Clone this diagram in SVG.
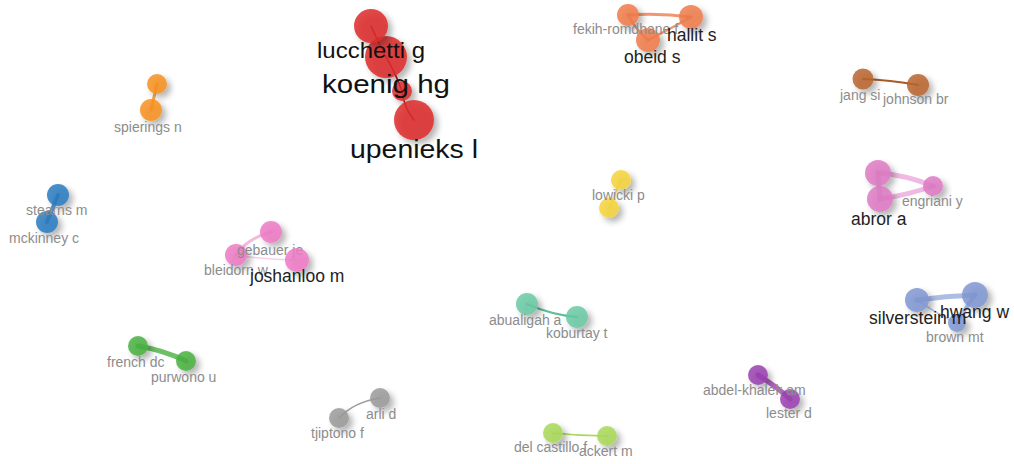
<svg xmlns="http://www.w3.org/2000/svg" width="1014" height="464" viewBox="0 0 1014 464">
<defs>
<filter id="sh" x="-60%" y="-60%" width="240%" height="240%">
<feGaussianBlur in="SourceAlpha" stdDeviation="3"/>
<feOffset dx="4" dy="4" result="b"/>
<feComponentTransfer><feFuncA type="linear" slope="0.35"/></feComponentTransfer>
<feMerge><feMergeNode/><feMergeNode in="SourceGraphic"/></feMerge>
</filter>
</defs>
<style>
text{font-family:"Liberation Sans",Arial,sans-serif}
.n{filter:url(#sh);fill-opacity:0.85}
.g{fill:#8c8c8c;font-size:14px}
.d{fill:#222;font-size:17.5px}
.b{fill:#111}
.e{fill:none;stroke-linecap:round}
</style>
<rect width="1014" height="464" fill="#fff"/>
<g id="connectors" class="e">
<path d="M371,26 Q378,42 386,57" stroke="#b01818" stroke-width="1.5"/>
<path d="M386,57 Q396,74 402,91" stroke="#b01818" stroke-width="1.5"/>
<path d="M402,91 Q404,108 414,120" stroke="#b01818" stroke-width="1.5"/>
<path d="M628,15 Q660,13 691,17" stroke="#f07b4b" stroke-width="3" stroke-opacity="0.8"/>
<path d="M628,15 Q636,30 648,40" stroke="#f07b4b" stroke-width="2.5" stroke-opacity="0.8"/>
<path d="M648,40 Q672,28 691,17" stroke="#f07b4b" stroke-width="2.5" stroke-opacity="0.8"/>
<path d="M863,79 Q890,80 918,85" stroke="#a85a28" stroke-width="2"/>
<path d="M878,173 Q906,175 933,186" stroke="#e58ad0" stroke-width="5" stroke-opacity="0.6"/>
<path d="M880,199 Q908,195 933,186" stroke="#e58ad0" stroke-width="5" stroke-opacity="0.6"/>
<path d="M878,173 L880,199" stroke="#e58ad0" stroke-width="5" stroke-opacity="0.6"/>
<path d="M917,300 Q946,296 975,295" stroke="#8aa0d6" stroke-width="5" stroke-opacity="0.7"/>
<path d="M975,295 Q964,310 957,323" stroke="#8aa0d6" stroke-width="4" stroke-opacity="0.7"/>
<path d="M917,300 Q937,314 957,323" stroke="#8aa0d6" stroke-width="2" stroke-opacity="0.5"/>
<path d="M58,195 L47,222" stroke="#2b7bc0" stroke-width="4" stroke-opacity="0.8"/>
<path d="M157,84 L151,110" stroke="#f7901e" stroke-width="3" stroke-opacity="0.8"/>
<path d="M271,232 Q248,238 236,255" stroke="#f08ac8" stroke-width="3" stroke-opacity="0.6"/>
<path d="M236,255 Q266,260 297,260" stroke="#f08ac8" stroke-width="1.5" stroke-opacity="0.4"/>
<path d="M621,180 L609,208" stroke="#f0cc30" stroke-width="2" stroke-opacity="0.7"/>
<path d="M527,304 Q552,315 577,317" stroke="#5fbf98" stroke-width="2"/>
<path d="M138,346 Q163,350 186,361" stroke="#48b040" stroke-width="5" stroke-opacity="0.8"/>
<path d="M758,375 Q776,386 790,399" stroke="#9a40b0" stroke-width="5" stroke-opacity="0.8"/>
<path d="M380,398 Q354,402 339,418" stroke="#a0a0a0" stroke-width="1.5"/>
<path d="M553,433 Q580,436 607,436" stroke="#a8d858" stroke-width="1.5"/>
</g>
<g id="node-c-red"><circle class="n" cx="402" cy="91" r="10" fill="#dd2a2a"/></g>
<g id="node-upenieks"><circle class="n" cx="414" cy="120" r="20" fill="#dd2a2a"/><text class="b" x="350" y="158" font-size="25" textLength="128" lengthAdjust="spacingAndGlyphs">upenieks l</text></g>
<g id="node-koenig"><circle class="n" cx="386" cy="57" r="21" fill="#dd2a2a"/><text class="b" x="322" y="93" font-size="26" textLength="128" lengthAdjust="spacingAndGlyphs">koenig hg</text></g>
<g id="node-lucchetti"><circle class="n" cx="371" cy="26" r="17" fill="#dd2a2a"/><text class="b" x="317" y="58" font-size="22" textLength="108" lengthAdjust="spacingAndGlyphs">lucchetti g</text></g>
<g id="node-obeid"><circle class="n" cx="648" cy="40" r="12" fill="#f07b4b"/><text class="d" x="624" y="63">obeid s</text></g>
<g id="node-fekih"><circle class="n" cx="628" cy="15" r="11" fill="#f07b4b"/><text class="g" x="573" y="34">fekih-romdhane f</text></g>
<g id="node-hallit"><circle class="n" cx="691" cy="17" r="12" fill="#f07b4b"/><text class="d" x="667" y="41">hallit s</text></g>
<g id="node-jang"><circle class="n" cx="863" cy="79" r="10.5" fill="#b8642e"/><text class="g" x="840" y="100">jang si</text></g>
<g id="node-johnson"><circle class="n" cx="918" cy="85" r="11" fill="#b8642e"/><text class="g" x="883" y="104">johnson br</text></g>
<g id="node-pink-top"><circle class="n" cx="878" cy="173" r="13" fill="#de7ac3"/></g>
<g id="node-engriani"><circle class="n" cx="933" cy="186" r="10" fill="#de7ac3"/><text class="g" x="902" y="206">engriani y</text></g>
<g id="node-abror"><circle class="n" cx="880" cy="199" r="13" fill="#de7ac3"/><text class="d" x="851" y="225">abror a</text></g>
<g id="node-brown"><circle class="n" cx="957" cy="323" r="9" fill="#8097d2"/><text class="g" x="926" y="342">brown mt</text></g>
<g id="node-silverstein"><circle class="n" cx="917" cy="300" r="12" fill="#8097d2"/><text class="d" x="869" y="324" font-size="17">silverstein m</text></g>
<g id="node-hwang"><circle class="n" cx="975" cy="295" r="13" fill="#8097d2"/><text class="d" x="940" y="318">hwang w</text></g>
<g id="node-mckinney"><circle class="n" cx="47" cy="222" r="11" fill="#2b7bc0"/><text class="g" x="9" y="243" font-size="14.5">mckinney c</text></g>
<g id="node-stearns"><circle class="n" cx="58" cy="195" r="11" fill="#2b7bc0"/><text class="g" x="26" y="215" font-size="14.5">stearns m</text></g>
<g id="node-orange-top"><circle class="n" cx="157" cy="84" r="10" fill="#f7901e"/></g>
<g id="node-spierings"><circle class="n" cx="151" cy="110" r="11" fill="#f7901e"/><text class="g" x="114" y="132">spierings n</text></g>
<g id="node-bleidorn"><circle class="n" cx="236" cy="255" r="11" fill="#ee7ac6"/><text class="g" x="204" y="275">bleidorn w</text></g>
<g id="node-gebauer"><circle class="n" cx="271" cy="232" r="11" fill="#ee7ac6"/><text class="g" x="237" y="255">gebauer je</text></g>
<g id="node-joshanloo"><circle class="n" cx="297" cy="260" r="12" fill="#ee7ac6"/><text class="d" x="250" y="282" font-size="17">joshanloo m</text></g>
<g id="node-yellow-low"><circle class="n" cx="609" cy="208" r="10" fill="#f4d33a"/></g>
<g id="node-lowicki"><circle class="n" cx="621" cy="180" r="10" fill="#f4d33a"/><text class="g" x="592" y="200">lowicki p</text></g>
<g id="node-koburtay"><circle class="n" cx="577" cy="317" r="11" fill="#6ac9a5"/><text class="g" x="546" y="338">koburtay t</text></g>
<g id="node-abualigah"><circle class="n" cx="527" cy="304" r="11" fill="#6ac9a5"/><text class="g" x="489" y="325">abualigah a</text></g>
<g id="node-french"><circle class="n" cx="138" cy="346" r="10" fill="#48b040"/><text class="g" x="107" y="367">french dc</text></g>
<g id="node-purwono"><circle class="n" cx="186" cy="361" r="10" fill="#48b040"/><text class="g" x="151" y="382">purwono u</text></g>
<g id="node-lester"><circle class="n" cx="790" cy="399" r="10" fill="#9a40b0"/><text class="g" x="766" y="418">lester d</text></g>
<g id="node-abdel"><circle class="n" cx="758" cy="375" r="10" fill="#9a40b0"/><text class="g" x="703" y="395" font-size="14.5" fill="#777">abdel-khalek am</text></g>
<g id="node-tjiptono"><circle class="n" cx="339" cy="418" r="10" fill="#9a9a9a"/><text class="g" x="311" y="438">tjiptono f</text></g>
<g id="node-arli"><circle class="n" cx="380" cy="398" r="10" fill="#9a9a9a"/><text class="g" x="366" y="419">arli d</text></g>
<g id="node-delcastillo"><circle class="n" cx="553" cy="433" r="10" fill="#a8d858"/><text class="g" x="514" y="452">del castillo f</text></g>
<g id="node-ackert"><circle class="n" cx="607" cy="436" r="10" fill="#a8d858"/><text class="g" x="579" y="456">ackert m</text></g>
</svg>
